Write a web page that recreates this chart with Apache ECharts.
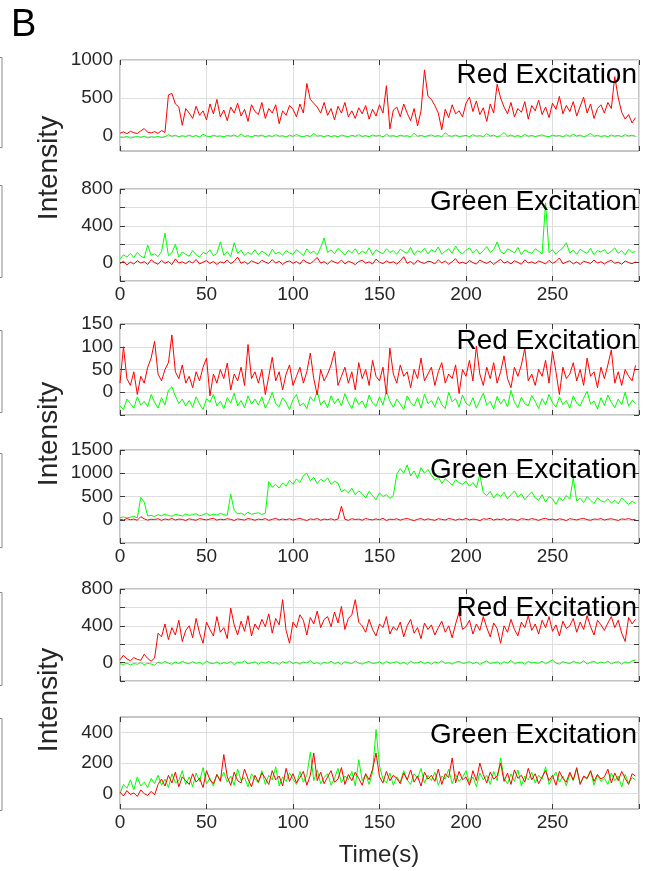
<!DOCTYPE html>
<html>
<head>
<meta charset="utf-8">
<title>Intensity traces</title>
<script src="https://cdn.jsdelivr.net/npm/echarts@6/dist/echarts.min.js"></script>
<style>
  html, body { margin: 0; padding: 0; background: #fff; }
  #chart { width: 645px; height: 871px; }
</style>
</head>
<body>
<div id="chart"></div>
<script>
// traces are sampled every 2 s, 0..298 s
const timeStep = 2;

// panel 1 - red excitation
const p1Red = [
  35, 52, 28, 60, 41, 30, 66, 95, 48, 38,
  55, 32, 70, 45, 540, 560, 420, 380, 140, 360,
  300, 230, 390, 270, 330, 210, 420, 290, 480, 250,
  340, 200, 380, 300, 430, 260, 350, 190, 410, 320,
  280, 440, 230, 360, 300, 410, 160, 330, 270, 400,
  350, 250, 420, 300, 690, 480, 430, 380, 300, 440,
  270, 360, 210, 390, 300, 440, 250, 330, 230, 370,
  290, 400, 220, 350, 260, 410, 300, 660, 90, 340,
  380, 250, 420, 300, 200, 360, 130, 330, 870, 520,
  480, 400, 300, 80, 350, 240, 410, 290, 330, 250,
  430, 510, 320, 460, 280, 370, 190, 420, 300, 680,
  500, 380, 290, 440, 250, 360, 310, 450, 220, 400,
  330, 470, 280, 380, 240, 430, 350, 520, 290, 400,
  320, 450, 260, 390, 510, 300, 420, 230, 360, 410,
  300, 440, 360, 780, 500, 310, 220, 280, 170, 240
];
const p1Green = [
  -15, -25, -8, -30, -18, -10, -22, -5, -28, -14,
  -20, -8, -25, -12, 15, -5, 8, -12, 2, -8,
  10, -10, 5, -15, 20, -3, -12, 8, -6, 0,
  -14, 6, -4, 12, -10, 25, -8, 3, -16, 7,
  -2, 10, -12, 4, -7, 14, -5, 2, -15, 9,
  -6, 18, -3, -11, 6, -8, 30, -4, 5, -13,
  8, -9, 3, -14, 12, -2, -10, 7, -6, 15,
  -8, 4, -12, 10, -3, 6, -15, 22, -5, 3,
  -10, 9, -4, 2, -13, 35, -6, 8, -9, 1,
  12, -7, 4, -11, 40, 2, -5, 10, -8, -2,
  6, -12, 15, -4, 3, -9, 28, -3, 8, -10,
  2, 45, -6, 10, -8, 4, -12, 18, -5, 6,
  -9, 3, 12, -4, -10, 8, -2, 5, -13, 14,
  -6, 20, -3, 9, -11, 4, 32, -5, 7, -8,
  3, -10, 11, -4, 6, -9, 15, -2, 8, -6
];

// panel 2 - green excitation
const p2Red = [
  -10, 15, -25, 5, -15, 20, -5, 10, -20, 30,
  0, -18, 25, -8, 12, -22, 40, -5, 8, -12,
  18, -6, 35, -15, 5, 22, -10, 12, -20, 8,
  -4, 28, -12, 15, 60, -8, 10, -18, 20, 2,
  -14, 25, 5, -10, 32, -6, 14, -20, 8, 18,
  -8, 12, -16, 30, 2, -12, 20, 55, -5, 10,
  -18, 22, 6, -9, 28, -14, 15, 0, -22, 12,
  25, -7, 8, -15, 38, 4, -11, 18, -3, 10,
  -16, 20, 65, -8, 12, -20, 26, 3, -10, 15,
  8, -14, 30, -5, 18, -18, 10, 42, -8, 4,
  -12, 22, 0, -16, 28, 6, -9, 15, -20, 10,
  35, -6, 12, -14, 20, 2, -18, 30, -4, 8,
  -10, 18, 4, -15, 25, -8, 12, 50, -12, 6,
  20, -14, 8, -20, 15, 3, -9, 28, -5, 10,
  -16, 12, 24, -8, 5, -18, 18, 0, -12, 8
];
const p2Green = [
  40, 85, 60, 100, 55, 110, 70, 50, 190, 80,
  95, 65, 120, 320, 75, 105, 200, 60, 115, 90,
  70, 130, 85, 60, 110, 95, 140, 75, 100, 225,
  80, 120, 65, 215, 100, 135, 75, 110, 90, 140,
  85, 125, 100, 70, 145, 95, 115, 80, 130, 105,
  90, 140, 110, 75, 150, 100, 125, 85, 165, 268,
  110, 140, 95, 155, 120, 80, 135, 105, 150, 90,
  125, 100, 160, 85, 140, 115, 95, 150, 110, 130,
  90, 145, 120, 100, 165, 85, 130, 110, 155, 95,
  140, 115, 170, 90, 125, 150, 100, 180, 120, 95,
  135, 160, 105, 145, 90, 130, 175, 110, 140, 225,
  120, 95, 150, 130, 105, 165, 85, 140, 115, 100,
  150, 125, 95, 650, 110, 140, 90, 130, 160, 215,
  105, 135, 90, 145, 120, 100, 155, 85, 130, 115,
  140, 95, 125, 160, 100, 130, 85, 145, 110, 120
];

// panel 3 - red excitation
const p3Red = [
  20, 100, 30, 15, 45, -5, 35, 20, 55, 75,
  112, 40, 25, 50, 65, 126, 45, 30, 60, 20,
  35, 10, 45, 25, 55, 75, -8, 40, 20, 50,
  30, 64, 5, 40, 25, 55, 15, 105, 30, 45,
  20, 50, -5, 35, 77, 25, 45, 5, 40, 60,
  15, 35, 55, 20, 45, 86, 30, -6, 50, 25,
  40, 60, 90, 15, 35, 55, 20, 45, 5, 65,
  30, 50, 15, 70, 35, 25, 55, -4, 97, 40,
  20, 60, 35, 45, 10, 50, 30, 75, 25, 40,
  55, 15, 45, 65, 20, 40, 30, 60, -3, 50,
  35, 70, 25, 101, 40, 15, 55, 30, 65, 20,
  45, 80, 30, 10, 55, 35, 60, 97, 25, 40,
  15, 50, 35, 70, 20, 90, 45, -5, 55, 30,
  40, 65, 25, 50, 15, 75, 35, 45, 10, 55,
  30, 60, 93, 20, 45, 15, 50, 35, 25, 59
];
const p3Green = [
  -30, -38, -15, -25, -35, -10, -28, -20, -32, -5,
  -22, -35, -12, -28, 5, 12, -8, -25, -15, -30,
  -18, -33, -10, -26, -38, -14, -22, -5, -30, -20,
  -36, -12, -24, -2, -30, -18, -34, -8, -26, -15,
  -28, -10, -35, -20, 0, -25, -32, -12, -22, -38,
  -16, -5, -30, -24, -36, -10, -20, 2, -28, -18,
  -34, -8, -25, -14, -30, -3, -22, -36, -12, -27,
  -19, -35, -6, -24, -31, -10, -28, 3, -20, -33,
  -15, -26, -38, -8, -22, -30, -12, -35, -4, -25,
  -18, -32, -10, -27, -36, 0, -21, -14, -33, -6,
  -24, -30, -12, -35, -18, -2, -28, -20, -37, -9,
  -26, -15, -32, 4, -22, -34, -11, -25, -30, -7,
  -20, -36, -14, -28, -5, -23, -33, -10, -27, -18,
  -35, -8, -24, -30, -13, 2, -26, -19, -37, -12,
  -29, -6, -22, -34, -15, -27, 0, -31, -18, -25
];

// panel 4 - green excitation
const p4Red = [
  10, -5, 25, 0, 15, -10, 65, 20, -8, 12,
  5, 22, -12, 18, 0, 28, -6, 14, 8, -15,
  20, 3, -10, 25, 10, -5, 16, 30, -8, 12,
  0, 22, 8, -14, 18, 5, -6, 26, 12, -10,
  15, 2, 24, -12, 8, 30, -4, 16, 0, 20,
  -8, 12, 28, 4, -15, 18, 6, 25, -10, 14,
  2, 20, -6, 16, 290, 10, -12, 22, 5, 15,
  -10, 26, 8, -4, 18, 0, 30, -14, 12, 6,
  20, -8, 14, 28, 2, -16, 10, 24, -5, 18,
  4, -12, 22, 8, -6, 26, 12, -10, 16, 0,
  28, -4, 14, 6, -18, 20, 10, 32, -8, 15,
  2, 24, -10, 18, 6, -14, 22, 12, -2, 26,
  8, -12, 16, 30, 0, 14, -8, 20, 6, -16,
  22, 10, -4, 18, 28, 2, -10, 16, 8, 24,
  -6, 12, 20, 4, -14, 18, 8, 26, -2, 10
];
const p4Green = [
  45, 60, 38, 55, 70, 42, 480, 380, 80, 95,
  70, 110, 85, 120, 90, 75, 115, 100, 80, 125,
  95, 110, 130, 85, 105, 140, 90, 120, 100, 135,
  110, 95, 550, 200, 125, 145, 100, 160, 120, 135,
  150, 115, 140, 820, 700, 760, 680, 790, 720, 850,
  760, 880, 800, 950, 1000, 840, 910, 780, 870, 820,
  900, 760, 830, 790, 600, 650, 580, 680, 540, 620,
  560, 470, 610, 520, 430, 580, 500, 540, 460, 520,
  980, 1100, 1000, 1180, 940, 1050, 890, 1120, 1000, 1080,
  960, 850, 920, 780, 880, 820, 740, 860, 800, 760,
  830, 720, 800, 690, 970, 580, 520, 610, 470, 560,
  500, 590, 450, 540, 620, 480, 560, 430, 520, 600,
  470, 420, 540, 380, 500, 450, 330, 480, 410, 520,
  440, 900, 400, 460, 370, 500, 420, 350, 470, 410,
  380, 450, 360, 420, 340, 470, 390, 330, 400, 350
];

// panel 5 - red excitation
const p5Red = [
  30, 80, 40, 20, 55, 35, 25, 90, 45, 15,
  50, 320, 280, 420, 250, 380, 300, 460, 230, 350,
  400, 270, 480, 320, 210, 440, 360, 290, 500, 330,
  380, 260, 593, 410, 300, 450, 340, 510, 290, 420,
  360, 470, 390, 530, 320, 480, 410, 684, 350, 210,
  440, 380, 520, 460, 300, 490, 420, 560, 380, 470,
  500, 390, 550, 430, 610, 360, 480, 520, 684, 440,
  400, 330, 470, 360, 290, 420, 380, 500, 310, 390,
  350, 440, 280, 400, 470, 320, 380, 260, 430, 360,
  410, 300, 380, 450, 330, 400, 270, 420, 548, 360,
  390, 460, 310, 420, 350, 500, 380, 280, 430, 370,
  210, 400, 330, 470, 360, 290, 440, 380, 510, 350,
  420, 310, 460, 380, 500, 340, 410, 290, 450, 370,
  400, 480, 330, 440, 360, 510, 390, 300, 460, 410,
  350, 430, 500, 380, 460, 320, 230, 490, 420, 470
];
const p5Green = [
  -12, -20, -5, -25, -10, -18, 0, -22, -8, -15,
  -28, 5, -10, 12, -6, -18, 8, -12, 15, -4,
  -14, 10, -8, 2, -20, 18, -5, -12, 6, -16,
  0, -10, 12, -22, 4, -6, 20, -14, -2, 8,
  -18, 6, -8, 14, -12, 0, -20, 10, -4, 16,
  -10, 3, -16, 8, -6, 22, -12, 0, -18, 5,
  -8, 15, -14, 4, -20, 10, -2, -12, 18, -6,
  -16, 2, 12, -10, -4, 8, -18, 14, -8, 0,
  10, -14, 4, -20, 16, -6, -2, 12, -12, 6,
  -18, 8, -6, 20, -10, 0, -16, 4, 14, -8,
  -4, 12, -14, 6, -20, 2, 18, -10, -2, 8,
  -16, 10, -6, 24, -12, 0, 6, -18, 14, -4,
  2, -10, 16, -14, 8, 28, -6, -16, 10, -2,
  -12, 14, 0, -8, 20, -16, 4, 12, -10, 6,
  -6, 16, -14, 2, 10, -18, 8, -4, 18, 30
];

// panel 6 - green excitation
const p6Red = [
  10, -15, 20, -5, 5, -18, 25, 0, -12, 15,
  -8, 60, 95, 50, 120, 70, 140, 45, 110, 85,
  60, 130, 75, 100, 40, 150, 90, 65, 125, 80,
  255, 110, 55, 140, 85, 70, 160, 95, 45, 120,
  75, 135, 100, 60, 150, 90, 115, 50, 165, 80,
  130, 70, 105, 145, 55, 120, 265, 85, 140, 65,
  110, 150, 75, 95, 170, 60, 125, 85, 140, 100,
  55, 130, 90, 160, 265, 110, 70, 145, 85, 120,
  100, 65, 135, 90, 155, 75, 115, 50, 140, 95,
  120, 80, 160, 60, 130, 105, 233, 70, 145, 90,
  110, 55, 150, 85, 200, 125, 70, 140, 95, 115,
  200, 80, 135, 60, 155, 100, 120, 75, 165, 90,
  130, 65, 110, 150, 85, 120, 55, 145, 100, 75,
  140, 90, 170, 60, 115, 100, 150, 80, 125, 95,
  110, 160, 70, 135, 85, 145, 100, 60, 130, 115
];
const p6Green = [
  0, 60, 35, 90, 25, 110, 50, 75, 40, 100,
  65, 120, 55, 95, 40, 130, 70, 85, 150, 60,
  110, 45, 135, 80, 170, 65, 100, 50, 125, 90,
  140, 75, 115, 55, 160, 85, 105, 45, 130, 95,
  70, 150, 60, 120, 90, 175, 50, 110, 80, 135,
  95, 60, 145, 75, 120, 270, 85, 155, 65, 105,
  130, 55, 100, 165, 70, 115, 90, 145, 50, 222,
  85, 125, 60, 140, 418, 180, 95, 70, 135, 55,
  110, 75, 150, 90, 60, 130, 100, 165, 70, 120,
  85, 140, 55, 115, 95, 160, 65, 125, 80, 105,
  150, 70, 110, 45, 135, 90, 120, 60, 145, 85,
  233, 100, 65, 130, 80, 155, 50, 115, 90, 140,
  70, 120, 95, 175, 60, 105, 140, 75, 115, 50,
  130, 85, 160, 65, 110, 95, 145, 55, 120, 80,
  100, 60, 135, 85, 115, 45, 125, 70, 105, 90
];

const panelTitles = ['Red Excitation', 'Green Excitation', 'Red Excitation',
                     'Green Excitation', 'Red Excitation', 'Green Excitation'];
const redTraces = [p1Red, p2Red, p3Red, p4Red, p5Red, p6Red];
const greenTraces = [p1Green, p2Green, p3Green, p4Green, p5Green, p6Green];

// axis ranges and tick spacing
const timeMax = 300;
const timeInterval = 50;
const yMin = [-200, -200, -50, -500, -200, -100];
const yMax = [1000, 800, 150, 1500, 800, 500];
const yInterval = [100, 200, 50, 500, 200, 100];   // tick step (min is a multiple)
const yGridStep = [500, 200, 50, 500, 200, 200];   // grid lines drawn at
const yLabelStep = [500, 400, 50, 500, 400, 200];  // labelled values

// layout (pixels)
const gridTop = [60, 189, 324, 450, 589, 717];
const gridHeight = [91, 92, 91, 93, 92, 92];
const titleTop = [61, 188, 327, 456, 594, 721];

const font = '"Liberation Sans", Arial, sans-serif';
const textColor = '#262626';
const tickColor = '#3a3a3a';
const gridColor = '#dedede';
const noColor = 'rgba(0,0,0,0)';

function toPoints(values) {
  return values.map((v, i) => [i * timeStep, v]);
}

// one colour per tick line: grey on grid values, transparent elsewhere
function gridColors(i) {
  let colors = [];
  for (let v = yMin[i]; v <= yMax[i]; v += yInterval[i]) {
    colors.push(v % yGridStep[i] === 0 ? gridColor : noColor);
  }
  return colors;
}

let myChart = echarts.init(document.getElementById('chart'));

let grids = [], xAxes = [], yAxes = [], series = [], titles = [];

panelTitles.forEach(function (name, i) {
  let showTime = i % 2 === 1;
  // ticks only where every tick is also a MATLAB tick
  let showYTicks = yInterval[i] === yGridStep[i];
  grids.push({
    left: 120, right: 6, top: gridTop[i], height: gridHeight[i],
    show: true, borderColor: '#8a8a8a', borderWidth: 1
  });
  xAxes.push({
    gridIndex: i, type: 'value', min: 0, max: timeMax, interval: timeInterval,
    axisLine: { show: false, onZero: false },
    axisTick: { inside: true, length: 5, lineStyle: { color: tickColor } },
    axisLabel: {
      show: showTime, fontSize: 19, color: textColor, fontFamily: font, margin: 4,
      formatter: function (v) { return v < timeMax ? String(v) : ''; }
    },
    splitLine: { show: true, lineStyle: { color: gridColor } }
  });
  xAxes.push({
    gridIndex: i, type: 'value', position: 'top', min: 0, max: timeMax, interval: timeInterval,
    axisLine: { show: false, onZero: false },
    axisTick: { inside: true, length: 5, lineStyle: { color: tickColor } },
    axisLabel: { show: false }, splitLine: { show: false }
  });
  yAxes.push({
    gridIndex: i, type: 'value', position: 'left', min: yMin[i], max: yMax[i], interval: yInterval[i],
    axisLine: { show: false, onZero: false },
    axisTick: { show: showYTicks, inside: true, length: 5, lineStyle: { color: tickColor } },
    axisLabel: {
      fontSize: 19, color: textColor, fontFamily: font, margin: 7,
      formatter: function (v) { return v >= 0 && v % yLabelStep[i] === 0 ? String(v) : ''; }
    },
    splitLine: { show: true, lineStyle: { color: gridColors(i) } }
  });
  yAxes.push({
    gridIndex: i, type: 'value', position: 'right', min: yMin[i], max: yMax[i], interval: yInterval[i],
    axisLine: { show: false, onZero: false },
    axisTick: { show: showYTicks, inside: true, length: 5, lineStyle: { color: tickColor } },
    axisLabel: { show: false }, splitLine: { show: false }
  });
  series.push({
    type: 'line', xAxisIndex: 2 * i, yAxisIndex: 2 * i,
    data: toPoints(greenTraces[i]), showSymbol: false,
    lineStyle: { color: '#00ff00', width: 1 }, itemStyle: { color: '#00ff00' }
  });
  series.push({
    type: 'line', xAxisIndex: 2 * i, yAxisIndex: 2 * i,
    data: toPoints(redTraces[i]), showSymbol: false,
    lineStyle: { color: '#ff0000', width: 1 }, itemStyle: { color: '#ff0000' }
  });
  titles.push({
    text: name, right: 8, top: titleTop[i], padding: 0,
    textStyle: { fontSize: 28, fontWeight: 'normal', color: '#000', fontFamily: font }
  });
});

titles.push({
  text: 'B', left: 11, top: 7, padding: 0,
  textStyle: { fontSize: 38, fontWeight: 'normal', color: '#000', fontFamily: font }
});

function yLabel(y) {
  return {
    type: 'text', x: 49, y: y, rotation: Math.PI / 2,
    style: { text: 'Intensity', fontSize: 28, fontFamily: font, fill: textColor,
             align: 'center', verticalAlign: 'middle' }
  };
}

// edges of panel A that are cut off at the left border
function edge(top, bottom) {
  return {
    type: 'polyline', silent: true,
    shape: { points: [[0, top], [2, top], [2, bottom], [0, bottom]] },
    style: { stroke: '#8a8a8a', lineWidth: 1, fill: null }
  };
}

let option = {
  animation: false,
  backgroundColor: '#fff',
  title: titles,
  grid: grids,
  xAxis: xAxes,
  yAxis: yAxes,
  series: series,
  graphic: [
    yLabel(168), yLabel(434), yLabel(700),
    {
      type: 'text', x: 379, y: 855,
      style: { text: 'Time(s)', fontSize: 24, fontFamily: font, fill: textColor,
               align: 'center', verticalAlign: 'middle' }
    },
    edge(57.5, 147.5), edge(185.5, 277.5), edge(330.5, 412.5),
    edge(453.5, 547.5), edge(592.5, 685.5), edge(718.5, 810.5)
  ]
};

myChart.setOption(option);
</script>
</body>
</html>
